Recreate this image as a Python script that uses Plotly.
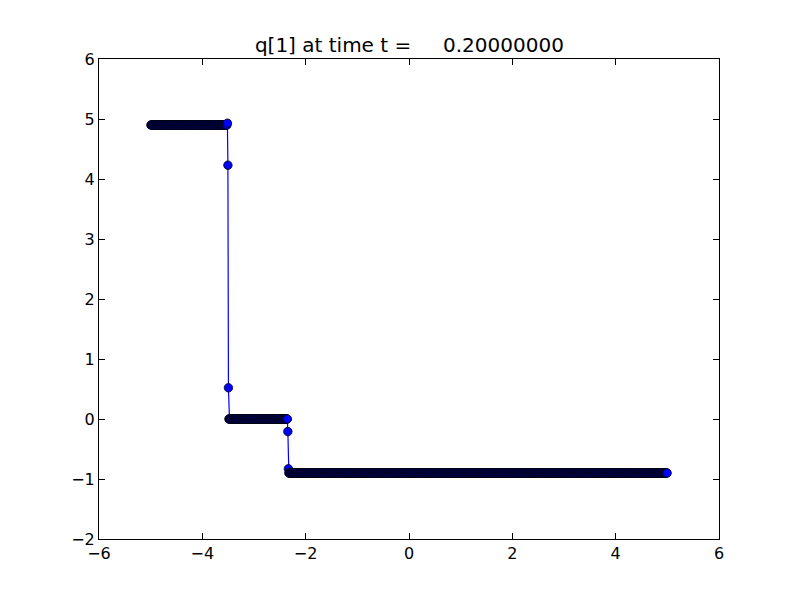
import numpy as np
import plotly.graph_objects as go

# finite volume grid: 1000 cells on [-5, 5]
x_lo = -5.0
x_hi = 5.0
n_cells = 1000

# q[1] values, stored as runs (value, number of cells)
q_values = [4.9, 4.93, 4.23, 0.52, 0.0, -0.21, -0.83, -0.9]
q_counts = [148, 1, 1, 1, 114, 1, 1, 733]

title = "q[1] at time t =     0.20000000"
x_ticks = [-6, -4, -2, 0, 2, 4, 6]
y_ticks = [-2, -1, 0, 1, 2, 3, 4, 5, 6]

dx = (x_hi - x_lo) / n_cells
xc = np.linspace(x_lo + dx / 2, x_hi - dx / 2, n_cells)
q = np.repeat(q_values, q_counts)

fig = go.Figure()
fig.add_trace(go.Scatter(x=xc, y=q, mode='lines+markers',
                         line=dict(color='#0000ff', width=1.2),
                         marker=dict(size=8.5, color='#0000ff',
                                     line=dict(color='black', width=0.75)),
                         showlegend=False))

axis_style = dict(showgrid=False, zeroline=False, showline=True, linecolor='black',
                  linewidth=1, mirror='allticks', ticks='inside', ticklen=6,
                  tickcolor='black', tickwidth=1,
                  tickfont=dict(family='DejaVu Sans', size=16, color='black'))
fig.update_xaxes(range=[-6, 6], tickvals=x_ticks, **axis_style)
fig.update_yaxes(range=[-2, 6], tickvals=y_ticks, **axis_style)

# page body has an 8px margin, so the figure is 784x584
fig.update_layout(
    width=784, height=584,
    margin=dict(l=91, r=73, t=51, b=53),
    paper_bgcolor='white',
    plot_bgcolor='white',
    title=dict(text=title, x=0.512, xanchor='center', y=0.925, yanchor='bottom',
               font=dict(family='DejaVu Sans', size=20, color='black')))

fig.write_html("out.html")
